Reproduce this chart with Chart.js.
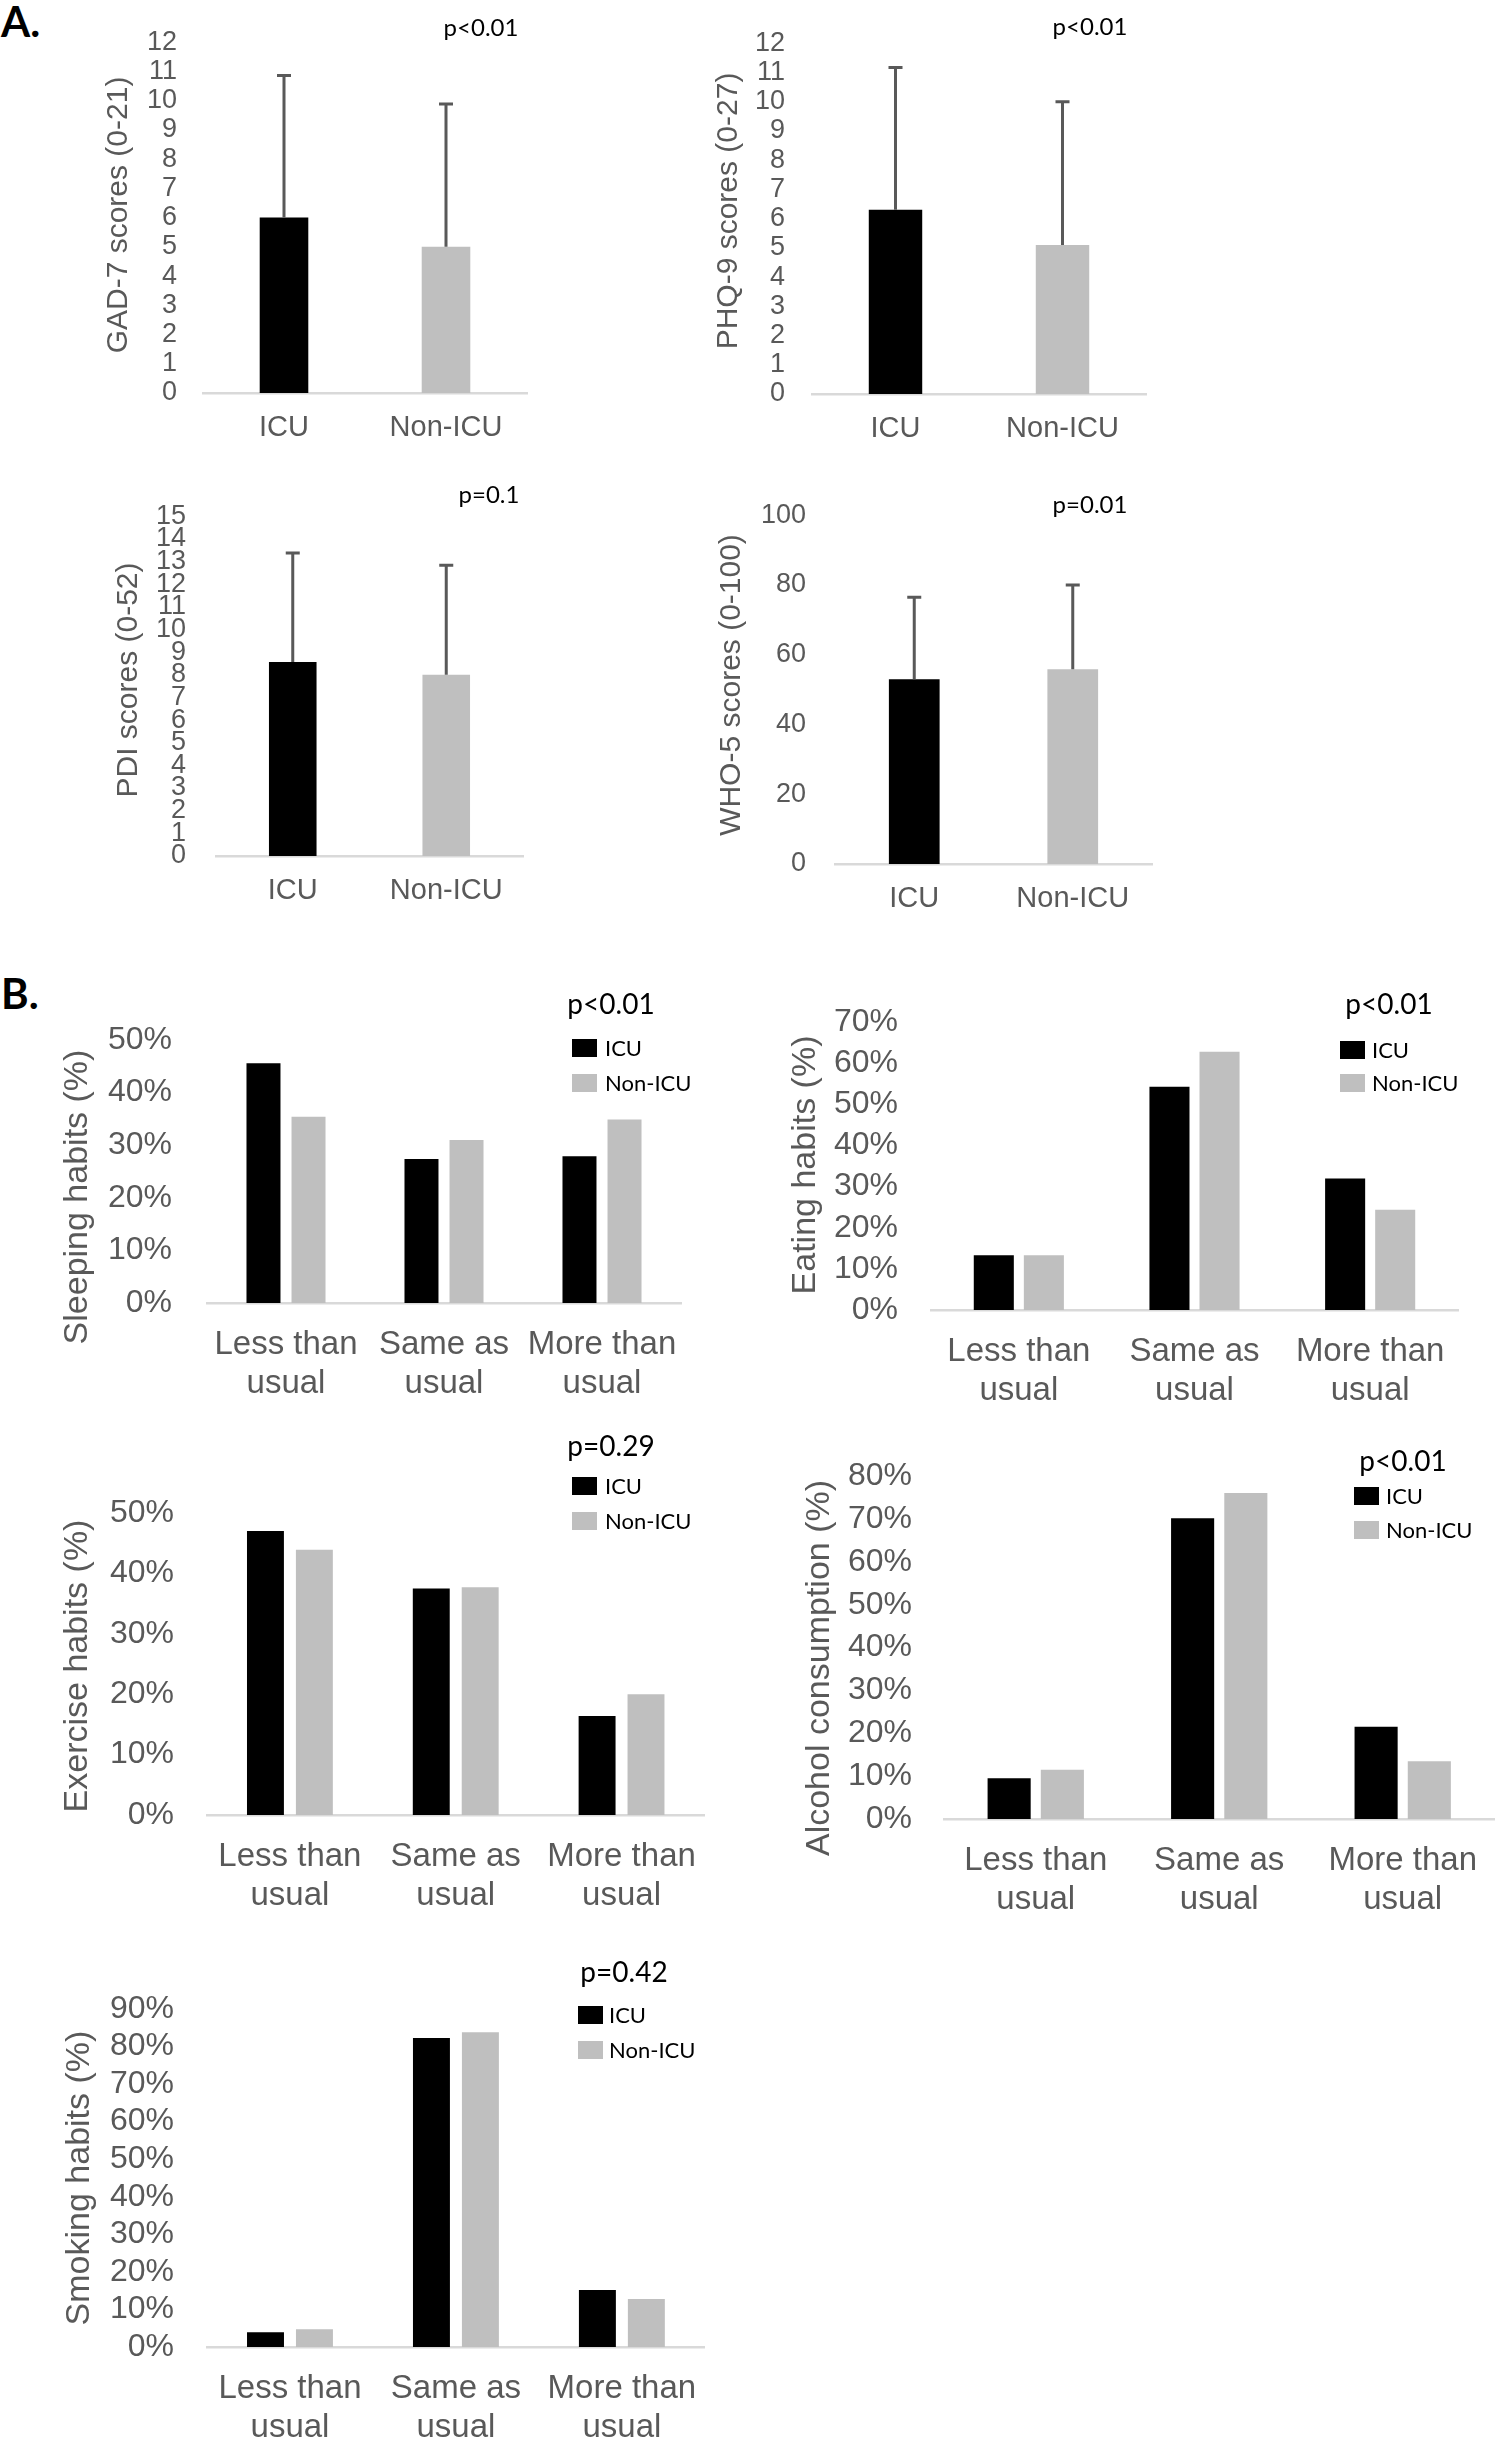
<!DOCTYPE html>
<html lang="en">
<head>
<meta charset="utf-8">
<title>ICU vs Non-ICU scores and habits</title>
<script src="https://cdn.jsdelivr.net/npm/chart.js@4.4.1/dist/chart.umd.min.js"></script>
<style>
  body { margin: 0; background: #fff; width: 1499px; height: 2442px; position: relative; overflow: hidden; }
  canvas { position: absolute; }
  .panel-tag { position: absolute; font-family: Lato, sans-serif; font-weight: 700; font-size: 42px; line-height: 1; color: #000; }
</style>
</head>
<body>
<div class="panel-tag" style="left:1px;top:0px">A.</div>
<div class="panel-tag" style="left:1px;top:972px">B.</div>
<canvas id="gad"></canvas>
<canvas id="phq"></canvas>
<canvas id="pdi"></canvas>
<canvas id="who"></canvas>
<canvas id="sleep"></canvas>
<canvas id="eat"></canvas>
<canvas id="exercise"></canvas>
<canvas id="alcohol"></canvas>
<canvas id="smoke"></canvas>
<script>
// ---- data ----
const groups = ['ICU', 'Non-ICU'];

const gadMean = [6.0, 5.0];
const gadSd = [4.86, 4.89];
const phqMean = [6.3, 5.1];
const phqSd = [4.87, 4.9];
const pdiMean = [8.56, 8.0];
const pdiSd = [4.81, 4.84];
const whoMean = [53.0, 55.8];
const whoSd = [23.5, 24.2];

const habitCats = [['Less than', 'usual'], ['Same as', 'usual'], ['More than', 'usual']];
const sleepIcu = [45.6, 27.4, 27.9];
const sleepNon = [35.4, 31.0, 34.9];
const eatIcu = [13.3, 54.3, 32.0];
const eatNon = [13.3, 62.8, 24.4];
const exerciseIcu = [47.0, 37.5, 16.4];
const exerciseNon = [43.9, 37.7, 20.0];
const alcoholIcu = [9.5, 70.2, 21.5];
const alcoholNon = [11.5, 76.1, 13.5];
const smokeIcu = [3.9, 82.3, 15.2];
const smokeNon = [4.7, 83.8, 12.8];

const pValues = ['p<0.01', 'p<0.01', 'p=0.1', 'p=0.01', 'p<0.01', 'p<0.01', 'p=0.29', 'p<0.01', 'p=0.42'];

// ---- styling ----
const ARIAL = '"Liberation Sans", Arial, sans-serif';
const CALIBRI = 'Lato, "Open Sans", sans-serif';
const TEXT = '#595959';
const BLACK = '#000000';
const GREY = '#bfbfbf';

// upper error whiskers for the score panels
const errorBars = {
  id: 'errorBars',
  afterDatasetsDraw(chart) {
    const { ctx } = chart;
    const y = chart.scales.y;
    chart.data.datasets.forEach((ds, i) => {
      if (!ds.errors) return;
      chart.getDatasetMeta(i).data.forEach((bar, j) => {
        const top = y.getPixelForValue(ds.data[j] + ds.errors[j]);
        ctx.save();
        ctx.strokeStyle = TEXT;
        ctx.lineWidth = 3;
        ctx.beginPath();
        ctx.moveTo(bar.x, bar.y);
        ctx.lineTo(bar.x, top);
        ctx.moveTo(bar.x - 7, top);
        ctx.lineTo(bar.x + 7, top);
        ctx.stroke();
        ctx.restore();
      });
    });
  }
};

// axis title, p value and legend, placed like the original
const notes = {
  id: 'notes',
  afterDraw(chart, args, o) {
    const { ctx } = chart;
    ctx.save();
    ctx.fillStyle = TEXT;
    ctx.font = o.titleSize + 'px ' + ARIAL;
    ctx.textAlign = 'center';
    ctx.textBaseline = 'middle';
    ctx.translate(o.titleX, o.titleY);
    ctx.rotate(-Math.PI / 2);
    ctx.fillText(o.title, 0, 0);
    ctx.restore();

    ctx.save();
    ctx.fillStyle = '#000';
    ctx.font = o.pSize + 'px ' + CALIBRI;
    ctx.textAlign = 'center';
    ctx.textBaseline = 'middle';
    ctx.fillText(o.p, o.pX, o.pY);
    ctx.restore();

    if (o.legend) {
      const L = o.legend;
      ctx.save();
      ctx.font = '22px ' + CALIBRI;
      ctx.textAlign = 'left';
      ctx.textBaseline = 'middle';
      chart.data.datasets.forEach((ds, i) => {
        const cy = L.rows[i];
        ctx.fillStyle = ds.backgroundColor;
        ctx.fillRect(L.boxX, cy - 9, 25, 18);
        ctx.fillStyle = '#000';
        ctx.fillText(ds.label, L.textX, cy + 1);
      });
      ctx.restore();
    }
  }
};

function panel(id, box, area, opt) {
  const cv = document.getElementById(id);
  cv.width = box.w;
  cv.height = box.h;
  cv.style.left = box.x + 'px';
  cv.style.top = box.y + 'px';
  const yW = area.l - box.x;
  const xH = box.y + box.h - area.b;
  const rel = n => ({
    title: n.title, titleSize: n.titleSize, titleX: n.titleX - box.x, titleY: n.titleY - box.y,
    p: n.p, pSize: n.pSize, pX: n.pX - box.x, pY: n.pY - box.y,
    legend: n.legend ? { boxX: n.legend.boxX - box.x, textX: n.legend.textX - box.x, rows: n.legend.rows.map(r => r - box.y) } : null
  });
  new Chart(cv, {
    type: 'bar',
    data: { labels: opt.labels, datasets: opt.datasets },
    options: {
      responsive: false,
      animation: false,
      layout: { padding: { top: area.t - box.y, right: box.x + box.w - area.r, left: 0, bottom: 0 } },
      plugins: { legend: { display: false }, tooltip: { enabled: false }, notes: rel(opt.notes) },
      scales: {
        x: {
          grid: { display: false, drawTicks: false },
          border: { display: true, color: '#d9d9d9', width: 2.5 },
          ticks: { color: TEXT, font: { family: ARIAL, size: opt.catSize, lineHeight: opt.catLine }, padding: opt.catPad, maxRotation: 0, autoSkip: false },
          afterFit(a) { a.height = xH; }
        },
        y: {
          min: 0,
          max: opt.max,
          grid: { display: false, drawTicks: false },
          border: { display: false },
          ticks: { stepSize: opt.step, autoSkip: false, color: TEXT, font: { family: ARIAL, size: opt.tickSize }, padding: opt.tickPad, callback: opt.fmt || (v => v) },
          afterFit(a) { a.width = yW; }
        }
      }
    },
    plugins: [errorBars, notes]
  });
}

function scoreSet(mean, sd, pct) {
  return [{ label: 'score', data: mean, errors: sd, backgroundColor: [BLACK, GREY], barPercentage: pct, categoryPercentage: 1 }];
}
function habitSets(icu, non, cat, bar) {
  return [
    { label: groups[0], data: icu, backgroundColor: BLACK, categoryPercentage: cat, barPercentage: bar },
    { label: groups[1], data: non, backgroundColor: GREY, categoryPercentage: cat, barPercentage: bar }
  ];
}
const pct = v => v + '%';
const A = { catSize: 29, catLine: 1.2, catPad: 18, tickSize: 27 };
const B = { catSize: 33, catLine: 1.2, catPad: 22, tickSize: 32, fmt: pct };

panel('gad', { x: 60, y: 0, w: 560, h: 470 }, { l: 203, t: 37, r: 527, b: 393 }, Object.assign({}, A, {
  labels: groups, datasets: scoreSet(gadMean, gadSd, 0.30), max: 12, step: 1, tickPad: 26,
  notes: { title: 'GAD-7 scores (0-21)', titleSize: 30, titleX: 119, titleY: 215, p: pValues[0], pSize: 24, pX: 481, pY: 28 }
}));
panel('phq', { x: 680, y: 0, w: 500, h: 470 }, { l: 812, t: 22, r: 1146, b: 394 }, Object.assign({}, A, {
  labels: groups, datasets: scoreSet(phqMean, phqSd, 0.32), max: 12, step: 1, tickPad: 27,
  notes: { title: 'PHQ-9 scores (0-27)', titleSize: 30, titleX: 729, titleY: 211, p: pValues[1], pSize: 24, pX: 1090, pY: 27 }
}));
panel('pdi', { x: 60, y: 470, w: 560, h: 460 }, { l: 216, t: 498, r: 523, b: 856 }, Object.assign({}, A, {
  labels: groups, datasets: scoreSet(pdiMean, pdiSd, 0.31), max: 15, step: 1, tickPad: 30,
  notes: { title: 'PDI scores (0-52)', titleSize: 30, titleX: 129, titleY: 680, p: pValues[2], pSize: 24, pX: 489, pY: 495 }
}));
panel('who', { x: 680, y: 470, w: 500, h: 460 }, { l: 835, t: 502, r: 1152, b: 864 }, Object.assign({}, A, {
  labels: groups, datasets: scoreSet(whoMean, whoSd, 0.32), max: 100, step: 20, tickPad: 29,
  notes: { title: 'WHO-5 scores (0-100)', titleSize: 30, titleX: 732, titleY: 685, p: pValues[3], pSize: 24, pX: 1090, pY: 505 }
}));

panel('sleep', { x: 20, y: 970, w: 700, h: 450 }, { l: 207, t: 1040, r: 681, b: 1303 }, Object.assign({}, B, {
  labels: habitCats, datasets: habitSets(sleepIcu, sleepNon, 0.57, 0.755), max: 50, step: 10, tickPad: 35,
  notes: { title: 'Sleeping habits (%)', titleSize: 34, titleX: 78, titleY: 1197, p: pValues[4], pSize: 28, pX: 611, pY: 1005,
    legend: { boxX: 572, textX: 605, rows: [1048, 1083] } }
}));
panel('eat', { x: 740, y: 970, w: 759, h: 450 }, { l: 931, t: 1020, r: 1458, b: 1310 }, Object.assign({}, B, {
  labels: habitCats, datasets: habitSets(eatIcu, eatNon, 0.57, 0.8), max: 70, step: 10, tickPad: 33,
  notes: { title: 'Eating habits (%)', titleSize: 34, titleX: 806, titleY: 1165, p: pValues[5], pSize: 28, pX: 1389, pY: 1005,
    legend: { boxX: 1340, textX: 1372, rows: [1050, 1083] } }
}));
panel('exercise', { x: 20, y: 1425, w: 700, h: 490 }, { l: 207, t: 1513, r: 707, b: 1815 }, Object.assign({}, B, {
  labels: habitCats, datasets: habitSets(exerciseIcu, exerciseNon, 0.59, 0.755), max: 50, step: 10, tickPad: 33,
  notes: { title: 'Exercise habits (%)', titleSize: 34, titleX: 78, titleY: 1666, p: pValues[6], pSize: 28, pX: 611, pY: 1447,
    legend: { boxX: 572, textX: 605, rows: [1486, 1521] } }
}));
panel('alcohol', { x: 740, y: 1425, w: 759, h: 500 }, { l: 944, t: 1472, r: 1499, b: 1819 }, Object.assign({}, B, {
  labels: habitCats, datasets: habitSets(alcoholIcu, alcoholNon, 0.58, 0.81), max: 80, step: 10, tickPad: 32,
  notes: { title: 'Alcohol consumption (%)', titleSize: 34, titleX: 820, titleY: 1668, p: pValues[7], pSize: 28, pX: 1403, pY: 1462,
    legend: { boxX: 1354, textX: 1386, rows: [1496, 1530] } }
}));
panel('smoke', { x: 20, y: 1930, w: 700, h: 512 }, { l: 207, t: 2009, r: 709, b: 2347 }, Object.assign({}, B, {
  labels: habitCats, datasets: habitSets(smokeIcu, smokeNon, 0.59, 0.755), max: 90, step: 10, tickPad: 33,
  notes: { title: 'Smoking habits (%)', titleSize: 34, titleX: 80, titleY: 2178, p: pValues[8], pSize: 28, pX: 624, pY: 1973,
    legend: { boxX: 578, textX: 609, rows: [2015, 2050] } }
}));
</script>
</body>
</html>
